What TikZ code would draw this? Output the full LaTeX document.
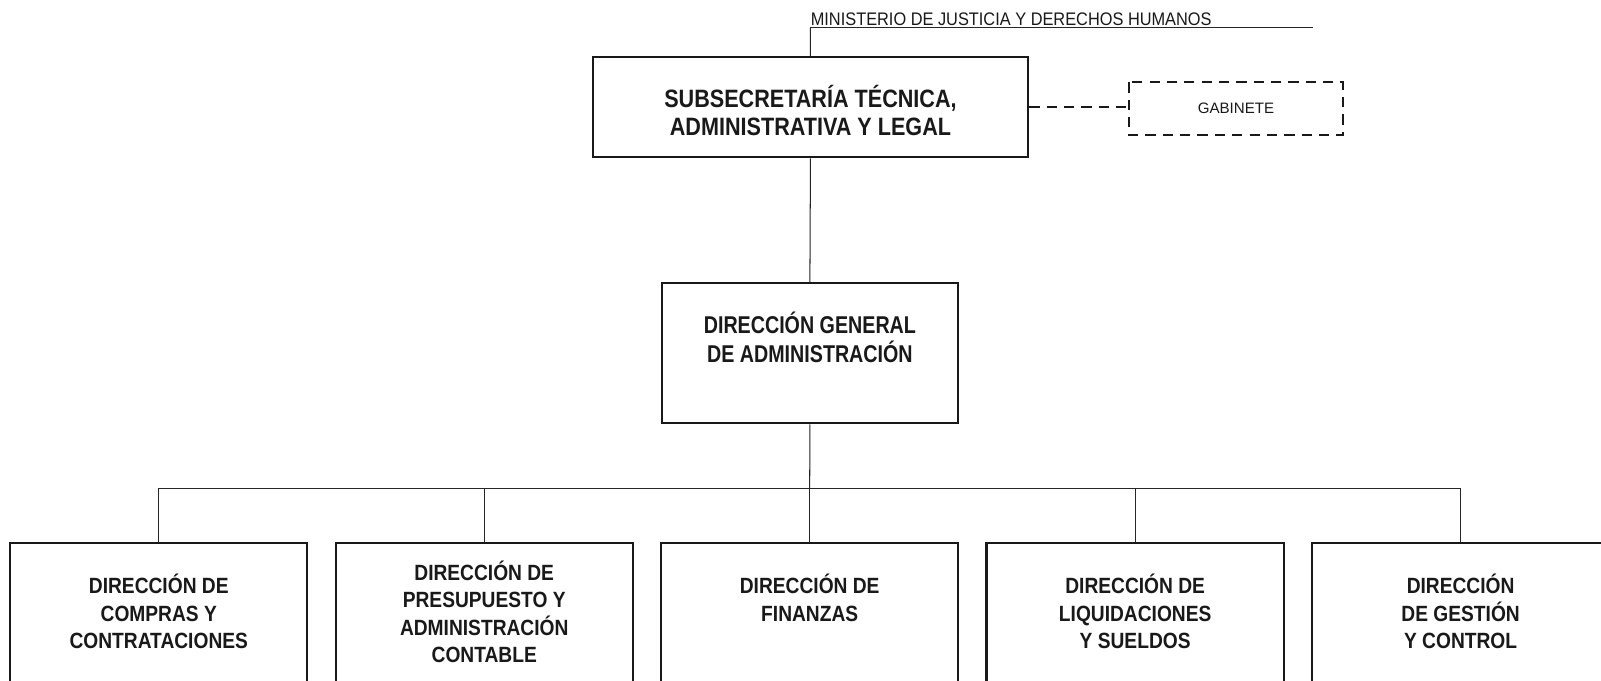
\documentclass[tikz,border=0pt]{standalone}
\usepackage{fontspec}
\setmainfont{Liberation Sans}
\newfontfamily\condA[FakeStretch=0.86]{Liberation Sans}
\newfontfamily\condB[FakeStretch=0.81]{Liberation Sans}
\newfontfamily\condD[FakeStretch=0.87]{Liberation Sans}
\newfontfamily\condC[FakeStretch=0.90]{Liberation Sans}
\newcommand\stk[1]{\begin{tabular}[t]{@{}c@{}}#1\end{tabular}}
\begin{document}
\begin{tikzpicture}[x=0.5pt,y=-0.5pt,
  box/.style={draw=black!90, line width=1.1pt, fill=white, inner sep=0pt},
  bigbox/.style={box, minimum width=145.5pt, minimum height=80pt},
  conn/.style={draw=black!85, line width=0.5pt},
  dconn/.style={draw=black!90, line width=1pt, dash pattern=on 5pt off 3.5pt},
  lbl/.style={inner sep=0pt, anchor=base, text=black!90},
  subfont/.style={font=\condA\bfseries\fontsize{12.3}{14}\selectfont},
  dgafont/.style={font=\condB\bfseries\fontsize{11.9}{13.1}\selectfont},
  botfont/.style={font=\condD\bfseries\fontsize{10.8}{13.3}\selectfont}]
\clip (0,0) rectangle (1568,666);
\fill[white] (0,0) rectangle (1568,666);

% ministry line
\coordinate (mL) at (793.7,27.3);
\coordinate (mR) at (1286,27.3);
\node[inner sep=0pt, anchor=base west, font=\condC\fontsize{8.9}{10}\selectfont, text=black!90] (min) at (793.7,24.5) {MINISTERIO DE JUSTICIA Y DERECHOS HUMANOS};

% boxes
\node[box, minimum width=213.25pt, minimum height=49pt] (sub) at (793.75,105) {};
\node[draw=none, inner sep=0pt, minimum width=104.5pt, minimum height=25.5pt] (gab) at (1210.5,106.5) {};
\node[box, minimum width=145.2pt, minimum height=68.5pt] (dga) at (793.2,346) {};
\node[bigbox] (b1) at (155.5,611.5) {};
\node[bigbox] (b2) at (474.25,611.5) {};
\node[bigbox] (b3) at (793,611.5) {};
\node[bigbox] (b4) at (1111.75,611.5) {};
\node[bigbox] (b5) at (1430.5,611.5) {};
\coordinate (bus) at (793,478.2);

% connectors
\draw[conn] (mL) -- (mR);
\draw[conn] (mL) -- (sub.north);
\draw[conn] (sub.south) -- (dga.north);
\draw[conn] (dga.south) -- (bus);
\draw[conn] (b1.north) -- (b1.north |- bus) -- (b5.north |- bus) -- (b5.north);
\draw[conn] (b2.north) -- (b2.north |- bus);
\draw[conn] (b3.north) -- (b3.north |- bus);
\draw[conn] (b4.north) -- (b4.north |- bus);
\draw[dconn] (sub.east) -- (sub.east -| gab.west);
\draw[dconn] (gab.north west) rectangle (gab.south east);

% texts
\node[lbl, subfont] (subt) at (793.75,105) {\stk{SUBSECRETARÍA TÉCNICA,\\ADMINISTRATIVA Y LEGAL}};
\node[lbl, font=\fontsize{7.4}{9}\selectfont] (gabt) at (1210.5,111) {GABINETE};
\node[lbl, dgafont] (dgat) at (793.2,326.4) {\stk{DIRECCIÓN GENERAL\\DE ADMINISTRACIÓN}};
\node[lbl, botfont] (b1t) at (155.5,581.7) {\stk{DIRECCIÓN DE\\COMPRAS Y\\CONTRATACIONES}};
\node[lbl, botfont] (b2t) at (474.25,568.4) {\stk{DIRECCIÓN DE\\PRESUPUESTO Y\\ADMINISTRACIÓN\\CONTABLE}};
\node[lbl, botfont] (b3t) at (793,581.7) {\stk{DIRECCIÓN DE\\FINANZAS}};
\node[lbl, botfont] (b4t) at (1111.75,581.7) {\stk{DIRECCIÓN DE\\LIQUIDACIONES\\Y SUELDOS}};
\node[lbl, botfont] (b5t) at (1430.5,581.7) {\stk{DIRECCIÓN\\DE GESTIÓN\\Y CONTROL}};
\end{tikzpicture}
\end{document}
